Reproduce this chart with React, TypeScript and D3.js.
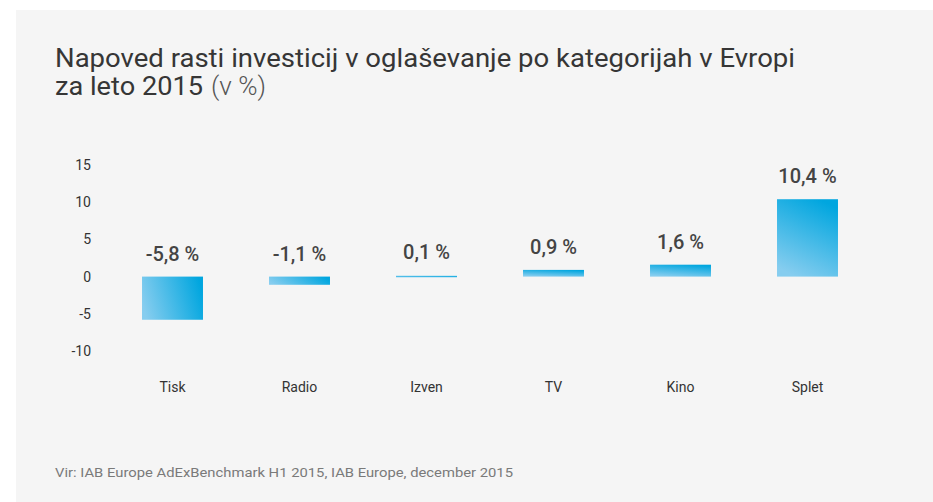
import React from "react";
import * as d3 from "d3";

const categories = ["Tisk", "Radio", "Izven", "TV", "Kino", "Splet"];
const values = [-5.8, -1.1, 0.1, 0.9, 1.6, 10.4];
const yTicks = [-10, -5, 0, 5, 10, 15];
const titleLines = ["Napoved rasti investicij v oglaševanje po kategorijah v Evropi", "za leto 2015"];
const source = "Vir: IAB Europe AdExBenchmark H1 2015, IAB Europe, december 2015";

const W = 933;
const H = 502;
const FONT = "Roboto, 'Noto Sans', sans-serif";

const fmt = (v: number) => v.toFixed(1).replace(".", ",") + " %";

const App = () => {
  // band scale: step 127, bar width 61
  const x = d3
    .scaleBand<string>()
    .domain(categories)
    .range([109, 871])
    .paddingInner(0.52)
    .paddingOuter(0.26);
  const y = d3.scaleLinear().domain([-10, 15]).range([351, 165]);
  const y0 = y(0);

  return (
    <svg
      width={W}
      height={H}
      style={{ position: "absolute", left: 0, top: 0, display: "block" }}
      fontFamily={FONT}
    >
      <defs>
        <linearGradient id="gPos" x1="0.3" y1="1" x2="0.7" y2="0">
          <stop offset="0" stopColor="#86cdef" />
          <stop offset="1" stopColor="#00a6df" />
        </linearGradient>
        <linearGradient id="gNeg" x1="0" y1="0.6" x2="1" y2="0.4">
          <stop offset="0" stopColor="#86cdef" />
          <stop offset="1" stopColor="#00a6df" />
        </linearGradient>
      </defs>
      <rect x={0} y={0} width={W} height={H} fill="#ffffff" />
      <rect x={16} y={10} width={W - 16} height={H - 10} fill="#f5f5f5" />

      <text x={55} y={67} fontSize={25.5} fill="#363636">
        <tspan textLength={740} lengthAdjust="spacingAndGlyphs">{titleLines[0]}</tspan>
      </text>
      <text x={55} y={95} fontSize={25.5} fill="#363636">
        <tspan textLength={148} lengthAdjust="spacingAndGlyphs">{titleLines[1]}</tspan>
        <tspan fontWeight={300} fill="#555" x={211} textLength={55} lengthAdjust="spacingAndGlyphs">(v %)</tspan>
      </text>

      {yTicks.map((t) => (
        <text
          key={t}
          x={91}
          y={y(t)}
          dy="0.35em"
          textAnchor="end"
          fontSize={14}
          fill="#333"
        >
          {t}
        </text>
      ))}

      {values.map((v, i) => {
        const c = categories[i];
        const bx = x(c) as number;
        const top = Math.min(y(v), y0);
        const h = Math.max(Math.abs(y(v) - y0), 1.5);
        const cx = bx + x.bandwidth() / 2;
        return (
          <g key={c}>
            <rect
              x={bx}
              y={v < 0 ? y0 : top}
              width={x.bandwidth()}
              height={h}
              fill={v < 0 ? "url(#gNeg)" : "url(#gPos)"}
            />
            <text
              x={cx}
              y={(v < 0 ? y0 : Math.min(top, y0 - 1.5)) - 16}
              textAnchor="middle"
              fontSize={20}
              fontWeight={500}
              fill="#444"
            >
              {fmt(v)}
            </text>
            <text x={cx} y={392} textAnchor="middle" fontSize={14} fill="#333">
              {c}
            </text>
          </g>
        );
      })}

      <text x={55} y={477} fontSize={13} fill="#7a7a7a">
        <tspan textLength={458} lengthAdjust="spacingAndGlyphs">{source}</tspan>
      </text>
    </svg>
  );
};

export default App;
